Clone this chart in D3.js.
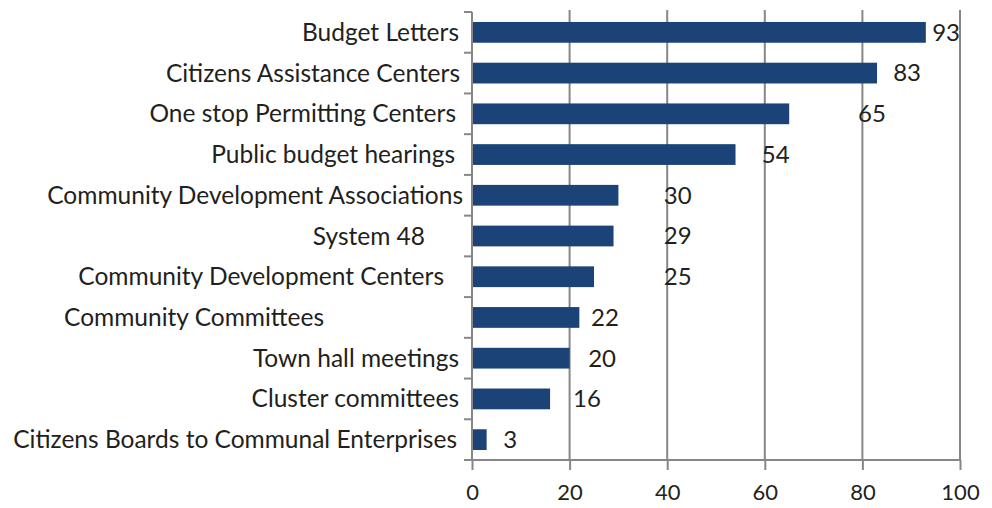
<!DOCTYPE html>
<html>
<head>
<meta charset="utf-8">
<script src="https://cdn.jsdelivr.net/npm/d3@7"></script>
<style>
  html, body { margin: 0; padding: 0; background: #fff; }
  svg { display: block; }
  text { font-family: Lato, "Open Sans", sans-serif; fill: #231f20; }
</style>
</head>
<body>
<svg id="chart" width="992" height="508"></svg>
<script>
// ---- data ----
const categories = [
  "Budget Letters",
  "Citizens Assistance Centers",
  "One stop Permitting Centers",
  "Public budget hearings",
  "Community Development Associations",
  "System 48",
  "Community Development Centers",
  "Community Committees",
  "Town hall meetings",
  "Cluster committees",
  "Citizens Boards to Communal Enterprises"
];
const values = [93, 83, 65, 54, 30, 29, 25, 22, 20, 16, 3];
const xTicks = [0, 20, 40, 60, 80, 100];
// where each value label starts (in axis units), as placed in the original
const valueLabelAt = [94.3, 86.3, 79.1, 59.4, 39.3, 39.3, 39.3, 24.4, 23.8, 20.7, 6.4];
// gap between category label end and the axis (px), as in the original
const catLabelGap = [13, 12, 16, 17, 9, 47, 28, 148, 13, 13, 15];

// ---- layout ----
const margin = { left: 472, right: 32, top: 12, bottom: 48 };
const W = 992, H = 508;
const FS = 24.5;
const svg = d3.select("#chart");
const x = d3.scaleLinear().domain([0, 100]).range([margin.left, W - margin.right]);
const y = d3.scaleBand().domain(categories).range([margin.top, H - margin.bottom]).paddingInner(0.49).paddingOuter(0.245);
const yOuter = d3.scaleBand().domain(categories).range([margin.top, H - margin.bottom]);
const grid = "#878787";

// gridlines
svg.append("g").selectAll("line").data(xTicks.slice(1)).join("line")
  .attr("x1", d => x(d)).attr("x2", d => x(d))
  .attr("y1", margin.top - 2).attr("y2", H - margin.bottom)
  .attr("stroke", grid).attr("stroke-width", 2);

// bars
svg.append("g").selectAll("rect").data(values).join("rect")
  .attr("x", x(0))
  .attr("y", (d, i) => y(categories[i]))
  .attr("width", d => x(d) - x(0))
  .attr("height", y.bandwidth())
  .attr("fill", "#1b4378");

// left axis line + ticks at band boundaries
const bounds = categories.map(c => yOuter(c)).concat([H - margin.bottom]);
svg.append("line").attr("x1", x(0)).attr("x2", x(0))
  .attr("y1", margin.top).attr("y2", H - margin.bottom)
  .attr("stroke", grid).attr("stroke-width", 2);
svg.append("g").selectAll("line").data(bounds).join("line")
  .attr("x1", x(0) - 8).attr("x2", x(0))
  .attr("y1", d => d).attr("y2", d => d)
  .attr("stroke", grid).attr("stroke-width", 2);

// bottom axis
const xAxis = d3.axisBottom(x).tickValues(xTicks).tickSize(10).tickPadding(14);
const gx = svg.append("g").attr("transform", `translate(0,${H - margin.bottom})`).call(xAxis);
gx.select(".domain").attr("stroke", grid).attr("stroke-width", 2).attr("d", `M${x(0)},0H${x(100)}`);
gx.selectAll(".tick line").attr("stroke", grid).attr("stroke-width", 2);
gx.selectAll(".tick text").attr("font-size", 22).attr("font-family", "Lato, sans-serif").attr("fill", "#231f20");

// category labels
svg.append("g").selectAll("text").data(categories).join("text")
  .attr("x", (d, i) => x(0) - catLabelGap[i])
  .attr("y", d => y(d) + y.bandwidth() / 2)
  .attr("dy", "0.35em")
  .attr("text-anchor", "end")
  .attr("font-size", FS)
  .text(d => d);

// value labels
svg.append("g").selectAll("text").data(values).join("text")
  .attr("x", (d, i) => x(valueLabelAt[i]))
  .attr("y", (d, i) => y(categories[i]) + y.bandwidth() / 2)
  .attr("dy", "0.35em")
  .attr("font-size", 24)
  .text(d => d);
</script>
</body>
</html>
